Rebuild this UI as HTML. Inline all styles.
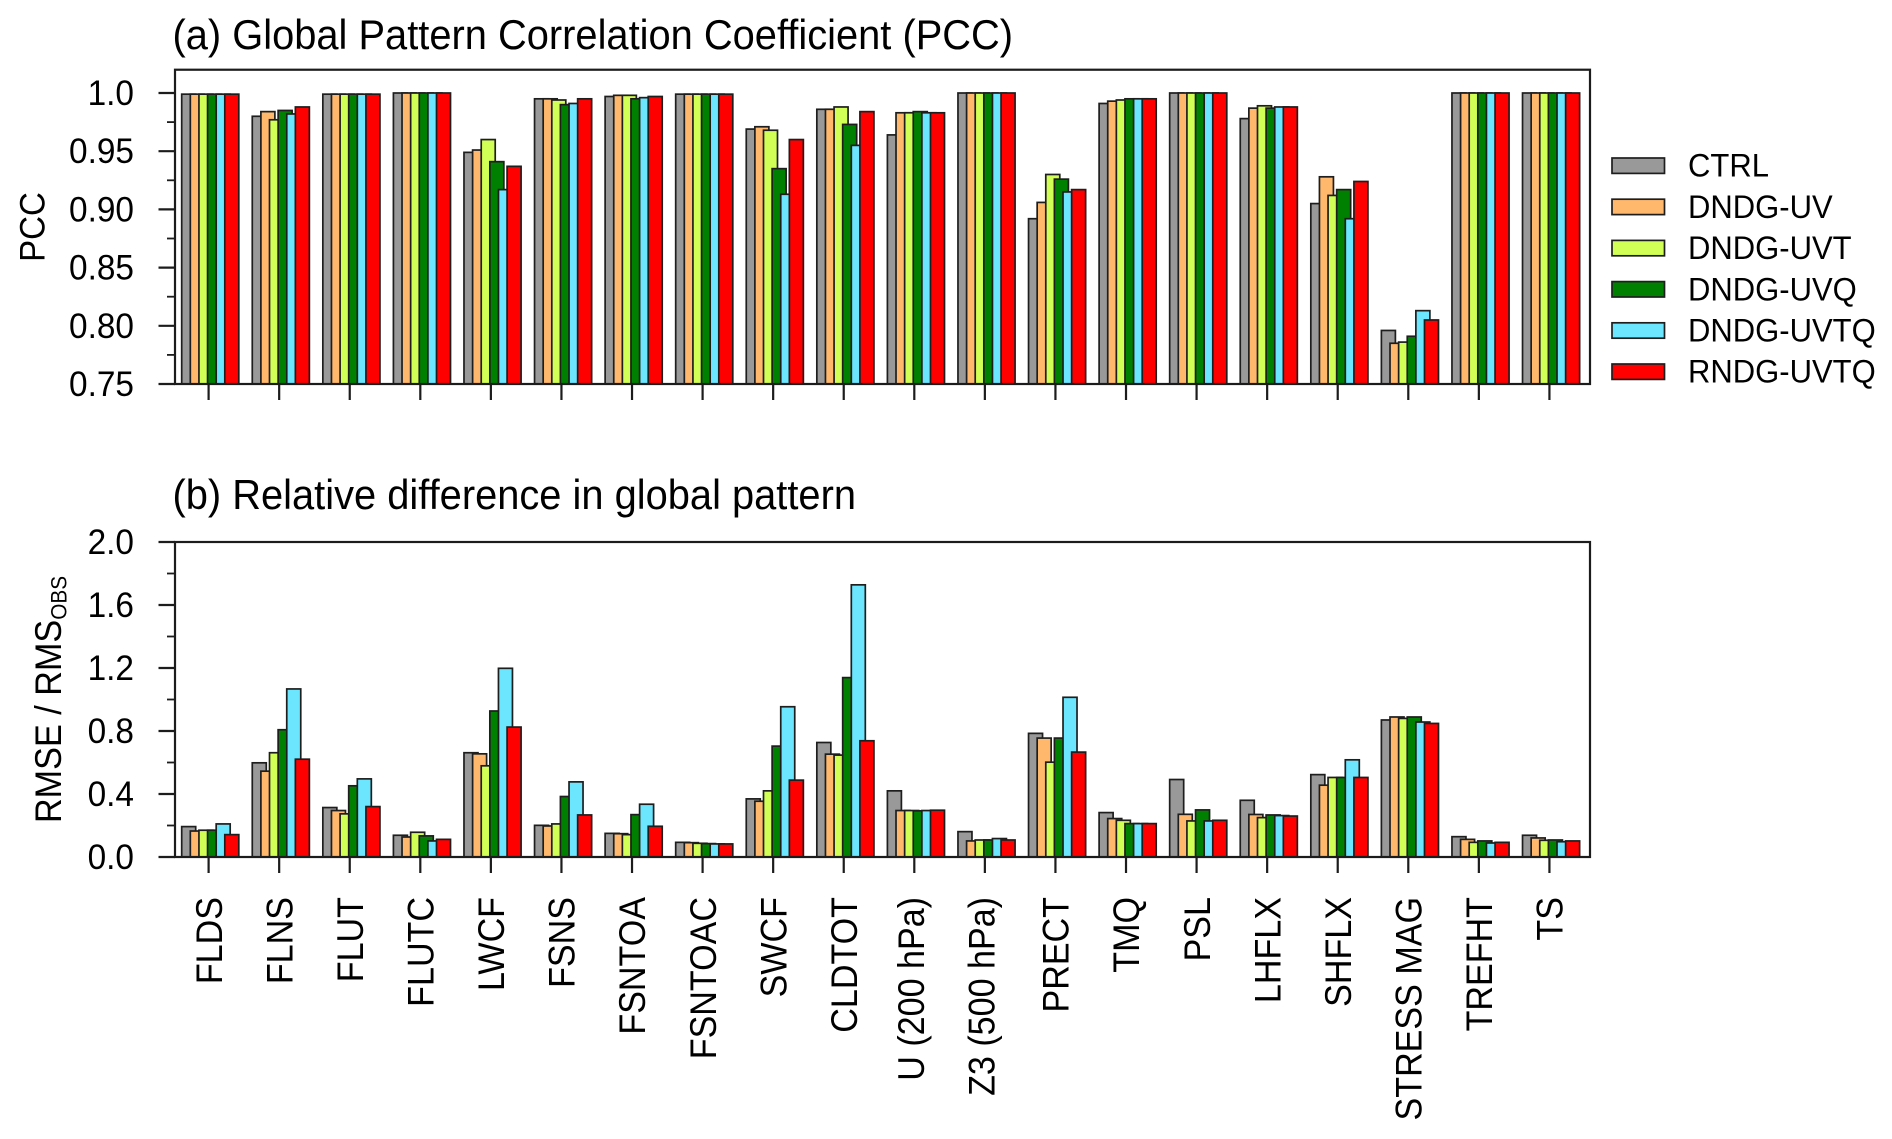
<!DOCTYPE html>
<html lang="en">
<head>
<meta charset="utf-8">
<title>Global Pattern Correlation and Relative Difference</title>
<style>
html,body{margin:0;padding:0;background:#fff;}
body{width:1892px;height:1139px;overflow:hidden;}
svg{display:block;filter:blur(0.35px);}
text{font-family:"Liberation Sans",Arial,sans-serif;fill:#000;}
</style>
</head>
<body>
<svg id="chart" xmlns="http://www.w3.org/2000/svg" width="1892" height="1139" viewBox="0 0 1892 1139">
  <rect x="0" y="0" width="1892" height="1139" fill="#ffffff"/>
  <text transform="translate(172.5,49) scale(1,1.05)" font-size="39.85">(a) Global Pattern Correlation Coefficient (PCC)</text>
  <text transform="translate(172.5,509) scale(1,1.05)" font-size="39.85">(b) Relative difference in global pattern</text>
  <text transform="translate(44.5,227) rotate(-90) scale(1,1.08)" text-anchor="middle" font-size="33">PCC</text>
  <text transform="translate(61,823) rotate(-90) scale(1,1.08)" font-size="34.2">RMSE / RMS<tspan font-size="20.8" dy="5">OBS</tspan></text>
  <g id="bars-a"></g>
  <g id="bars-b"></g>
  <g id="axes"></g>
  <g id="labels"></g>
  <g id="legend"></g>
</svg>
<script>
const categories = ["FLDS","FLNS","FLUT","FLUTC","LWCF","FSNS","FSNTOA","FSNTOAC","SWCF","CLDTOT","U (200 hPa)","Z3 (500 hPa)","PRECT","TMQ","PSL","LHFLX","SHFLX","STRESS MAG","TREFHT","TS"];
const seriesNames = ["CTRL","DNDG-UV","DNDG-UVT","DNDG-UVQ","DNDG-UVTQ","RNDG-UVTQ"];
const seriesColors = ["#999999","#ffb86c","#d2ff55","#008000","#6ce5ff","#ff0000"];

const pccCtrl = [0.999,0.980,0.999,1.000,0.949,0.995,0.997,0.999,0.969,0.986,0.964,1.000,0.892,0.991,1.000,0.978,0.905,0.796,1.000,1.000];
const pccUv   = [0.999,0.984,0.999,1.000,0.951,0.995,0.998,0.999,0.971,0.986,0.983,1.000,0.906,0.993,1.000,0.987,0.928,0.785,1.000,1.000];
const pccUvt  = [0.999,0.977,0.999,1.000,0.960,0.994,0.998,0.999,0.968,0.988,0.983,1.000,0.930,0.994,1.000,0.989,0.912,0.786,1.000,1.000];
const pccUvq  = [0.999,0.985,0.999,1.000,0.941,0.990,0.995,0.999,0.935,0.973,0.984,1.000,0.926,0.995,1.000,0.987,0.917,0.791,1.000,1.000];
const pccUvtq = [0.999,0.982,0.999,1.000,0.917,0.991,0.996,0.999,0.913,0.955,0.983,1.000,0.915,0.995,1.000,0.988,0.892,0.813,1.000,1.000];
const pccRndg = [0.999,0.988,0.999,1.000,0.937,0.995,0.997,0.999,0.960,0.984,0.983,1.000,0.917,0.995,1.000,0.988,0.924,0.805,1.000,1.000];

const rmseCtrl = [0.193,0.598,0.314,0.138,0.662,0.201,0.150,0.093,0.369,0.727,0.420,0.161,0.785,0.282,0.492,0.360,0.523,0.870,0.129,0.138];
const rmseUv   = [0.165,0.545,0.295,0.127,0.655,0.197,0.148,0.091,0.354,0.653,0.295,0.102,0.755,0.244,0.271,0.270,0.456,0.889,0.112,0.121];
const rmseUvt  = [0.170,0.662,0.274,0.157,0.579,0.210,0.142,0.087,0.420,0.647,0.295,0.108,0.602,0.233,0.229,0.250,0.505,0.880,0.093,0.106];
const rmseUvq  = [0.170,0.808,0.452,0.134,0.927,0.384,0.269,0.085,0.704,1.139,0.293,0.108,0.755,0.212,0.299,0.267,0.505,0.889,0.102,0.108];
const rmseUvtq = [0.210,1.067,0.496,0.102,1.198,0.477,0.335,0.083,0.954,1.728,0.295,0.117,1.014,0.212,0.229,0.263,0.617,0.857,0.089,0.097];
const rmseRndg = [0.142,0.621,0.320,0.112,0.825,0.267,0.195,0.083,0.488,0.738,0.297,0.108,0.666,0.212,0.233,0.260,0.505,0.848,0.093,0.102];

const pccSeries = [pccCtrl,pccUv,pccUvt,pccUvq,pccUvtq,pccRndg];
const rmseSeries = [rmseCtrl,rmseUv,rmseUvt,rmseUvq,rmseUvtq,rmseRndg];

const pccMajorTicks = ["0.75","0.80","0.85","0.90","0.95","1.0"];
const pccMinorTicks = [0.775,0.825,0.875,0.925,0.975];
const rmseMajorTicks = ["0.0","0.4","0.8","1.2","1.6","2.0"];
const rmseMinorTicks = [0.2,0.6,1.0,1.4,1.8];

const NS = "http://www.w3.org/2000/svg";
const plotLeft = 175, plotRight = 1590;
const axisColor = "#1c1c1c";
function xTick(i){ return 208.6 + i * 70.57; }
function yA(v){ return 384 - (v - 0.75) * 1164; }
function yB(v){ return 857 - v * 157.5; }
function make(tag, attrs, parent){
  const el = document.createElementNS(NS, tag);
  for (const k in attrs) el.setAttribute(k, attrs[k]);
  parent.appendChild(el);
  return el;
}
function drawBars(groupId, seriesList, yFn, base, prefix){
  const g = document.getElementById(groupId);
  categories.forEach(function(cat, c){
    seriesList.forEach(function(vals, s){
      const top = yFn(vals[c]);
      const r = make("rect", {x: xTick(c) - 26.9 + s * 8.62, y: top, width: 14, height: base - top, fill: seriesColors[s], stroke: "#1e1e1e", "stroke-width": 1.7}, g);
      
      
    });
  });
}
drawBars("bars-a", pccSeries, yA, 384, "pcc");
drawBars("bars-b", rmseSeries, yB, 857, "rmse");

const axes = document.getElementById("axes");
function drawFrame(top, bottom, name){
  const f = make("rect", {x: plotLeft, y: top, width: plotRight - plotLeft, height: bottom - top, fill: "none", stroke: axisColor, "stroke-width": 2.2}, axes);
  
  
}
drawFrame(yA(1.02), 384, "panel-a-frame");
drawFrame(yB(2), 857, "panel-b-frame");

function drawYAxis(majors, minors, yFn, name){
  majors.forEach(function(lbl){
    const y = yFn(parseFloat(lbl));
    const t = make("line", {x1: 158.5, x2: plotLeft, y1: y, y2: y, stroke: axisColor, "stroke-width": 2.2}, axes);
    
    
    const x = make("text", {transform: "translate(134," + (y + 12) + ") scale(1,1.05)", "text-anchor": "end", "font-size": 33.4}, axes);
    
    
    x.textContent = lbl;
  });
  minors.forEach(function(v){
    const y = yFn(v);
    const t = make("line", {x1: 167, x2: plotLeft, y1: y, y2: y, stroke: axisColor, "stroke-width": 1.8}, axes);
    
    
  });
}
drawYAxis(pccMajorTicks, pccMinorTicks, yA, "panel-a-y");
drawYAxis(rmseMajorTicks, rmseMinorTicks, yB, "panel-b-y");

categories.forEach(function(cat, c){
  const x = xTick(c);
  [384, 857].forEach(function(base){
    const t = make("line", {x1: x, x2: x, y1: base, y2: base + 16, stroke: axisColor, "stroke-width": 2.2}, axes);
    
    
  });
});

const labels = document.getElementById("labels");
categories.forEach(function(cat, c){
  const off = cat.indexOf("(") >= 0 ? 9.6 : 13.2;
  const t = make("text", {transform: "translate(" + (xTick(c) + off) + ",897) rotate(-90) scale(1,1.1)", "text-anchor": "end", "font-size": 34.1}, labels);
  
  
  t.textContent = cat;
});

const legend = document.getElementById("legend");
seriesNames.forEach(function(name, s){
  const cy = 165.7 + s * 41.2;
  const r = make("rect", {x: 1612, y: cy - 7.7, width: 52.5, height: 15.4, fill: seriesColors[s], stroke: "#1e1e1e", "stroke-width": 1.7}, legend);
  
  
  const t = make("text", {transform: "translate(1688," + (cy + 11) + ") scale(1,1.06)", "font-size": 31}, legend);
  
  
  t.textContent = name;
});
</script>
</body>
</html>
